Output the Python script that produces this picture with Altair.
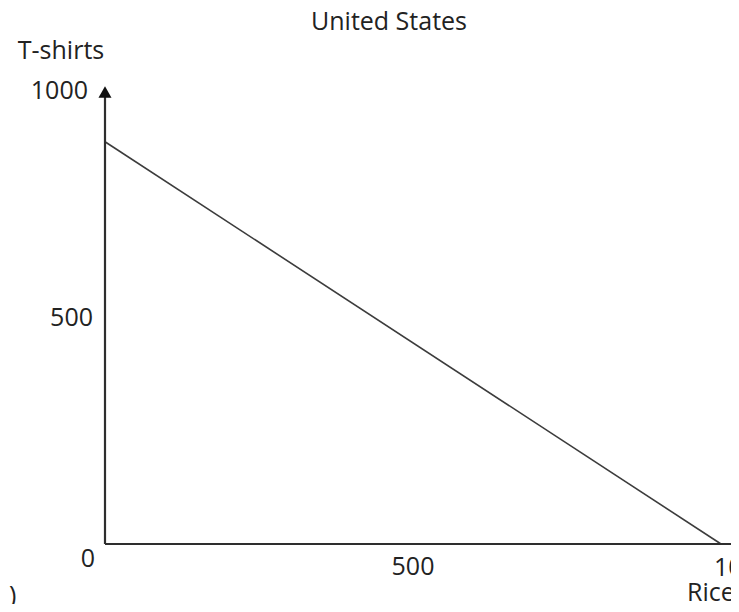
import altair as alt
import pandas as pd

# ---- data ----
rice = [0, 1000]          # x of the production-possibility line
tshirts = [890, 0]        # y of the production-possibility line
title_text = "United States"
y_axis_title = "T-shirts"
x_axis_title = "Rice"
y_tick_values = [1000, 500, 0]
y_tick_labels = ["1000", "500", "0"]
x_tick_values = [500, 1000]
x_tick_labels = ["500", "1000"]

W, H = 616, 452
FONT = "Open Sans"
FS = 25
TXT = "#222222"
AX = "#2e2e2e"

xs = alt.Scale(domain=[0, 1000], nice=False, zero=True)
ys = alt.Scale(domain=[0, 1000], nice=False, zero=True)


def X(field):
    return alt.X(field, type="quantitative", scale=xs, axis=None)


def Y(field):
    return alt.Y(field, type="quantitative", scale=ys, axis=None)


line_df = pd.DataFrame({"rice": rice, "tshirts": tshirts})
line = alt.Chart(line_df).mark_line(color="#3c3c3c", strokeWidth=1.6).encode(
    x=X("rice"), y=Y("tshirts")
)

X_END = 1045  # x axis runs off the right edge
axes_df = pd.DataFrame({"x": [0, 0], "y": [0, 0], "x2": [0, X_END], "y2": [1000, 0]})
axes = alt.Chart(axes_df).mark_rule(color=AX, strokeWidth=2.2).encode(
    x=X("x"), y=Y("y"), x2="x2", y2="y2"
)

arrow_df = pd.DataFrame({"x": [0], "y": [y_tick_values[0]]})
arrow = alt.Chart(arrow_df).mark_point(
    shape="triangle-up", filled=True, size=170, color="#111111", opacity=1
).encode(x=X("x"), y=Y("y"))


def label(text, x, y, align="center", dx=0, dy=0, baseline="middle"):
    df = pd.DataFrame({"x": [x], "y": [y], "t": [text]})
    return alt.Chart(df).mark_text(
        align=align, baseline=baseline, dx=dx, dy=dy,
        font=FONT, fontSize=FS, color=TXT
    ).encode(x=X("x"), y=Y("y"), text="t:N")


texts = [
    # y tick labels
    label(y_tick_labels[0], 0, y_tick_values[0], align="right", dx=-17, dy=-1),
    label(y_tick_labels[1], 0, y_tick_values[1], align="right", dx=-12, dy=0),
    label(y_tick_labels[2], 0, y_tick_values[2], align="center", dx=-17, dy=15),
    # x tick labels
    label(x_tick_labels[0], x_tick_values[0], 0, align="center", dx=0, dy=23),
    label(x_tick_labels[1], x_tick_values[1], 0, align="left", dx=-7, dy=24),
    # axis titles
    label(y_axis_title, 0, 1000, align="center", dx=-44, dy=-41),
    label(x_axis_title, 1000, 0, align="left", dx=-34, dy=49),
    # stray fragment at bottom-left of the reference
    label(")", 0, 0, align="left", dx=-96, dy=52),
]

title_df = pd.DataFrame({"t": [title_text]})
title = alt.Chart(title_df).mark_text(
    align="center", baseline="middle", font=FONT, fontSize=FS, color=TXT
).encode(x=alt.value(284), y=alt.value(-70), text="t:N")

chart = alt.layer(line, axes, arrow, title, *texts).properties(
    width=W, height=H,
    padding={"left": 97, "top": 84, "right": 10, "bottom": 60},
    autosize=alt.AutoSizeParams(type="none"),
    background="white",
).configure_view(stroke=None)

chart.save("out.html", embed_options={"renderer": "svg", "actions": False})
